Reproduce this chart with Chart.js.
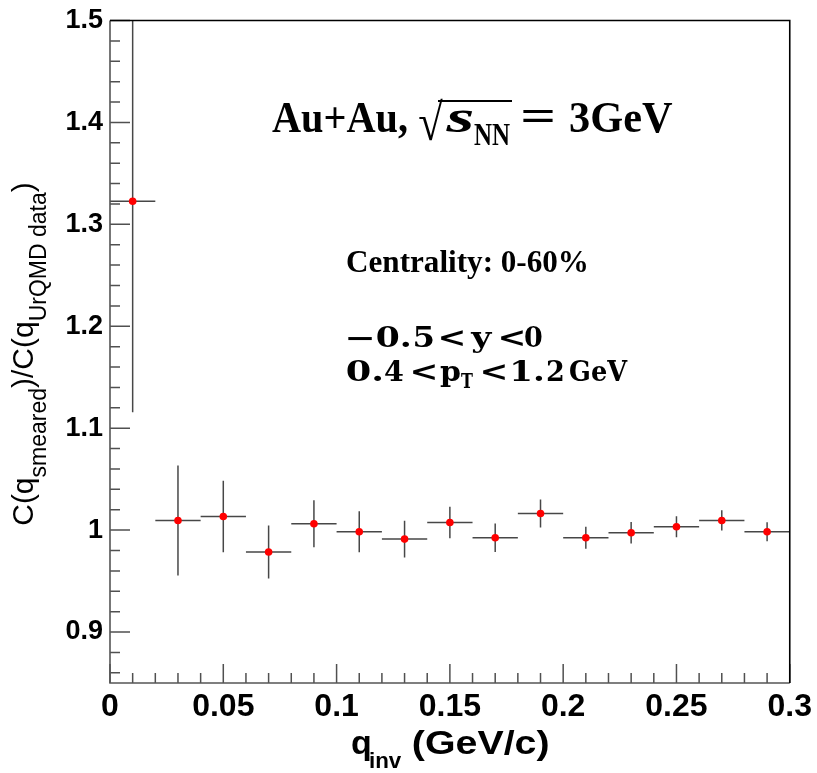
<!DOCTYPE html>
<html><head><meta charset="utf-8">
<script src="https://cdn.jsdelivr.net/npm/chart.js@4.4.1/dist/chart.umd.min.js"></script>
<style>html,body{margin:0;padding:0;background:#fff;}canvas{display:block;}</style>
</head><body>
<canvas id="c" width="817" height="773"></canvas>
<script>
// ---- data ----
const qCenters = [0.01, 0.03, 0.05, 0.07, 0.09, 0.11, 0.13, 0.15, 0.17, 0.19, 0.21, 0.23, 0.25, 0.27, 0.29];
const ratio    = [1.3226, 1.0095, 1.0134, 0.9785, 1.0062, 0.9984, 0.9912, 1.0075, 0.9925, 1.0163, 0.9925, 0.9974, 1.0033, 1.0095, 0.9984];
const ratioErr = [0.207, 0.054, 0.035, 0.026, 0.023, 0.020, 0.018, 0.0155, 0.014, 0.0137, 0.0107, 0.0105, 0.0102, 0.0099, 0.0093];
const binWidth = 0.02;
const xTickValues = [0, 0.05, 0.1, 0.15, 0.2, 0.25, 0.3];
const xTickLabels = ['0', '0.05', '0.1', '0.15', '0.2', '0.25', '0.3'];
const yTickValues = [0.9, 1.0, 1.1, 1.2, 1.3, 1.4, 1.5];
const yTickLabels = ['0.9', '1', '1.1', '1.2', '1.3', '1.4', '1.5'];
const xMinorStep = 0.01, xMinorPerMajor = 5;
const yMinorStep = 0.02, yMinorPerMajor = 5;

const SANS = "'Liberation Sans', Arial, Helvetica, sans-serif";
const SERIF = "'Liberation Serif', 'Times New Roman', serif";
const MATH = "'DejaVu Serif', 'Liberation Serif', serif";

// draws text so that its ink spans exactly from x0 to x1 (horizontal scaling only)
function fitInk(ctx, txt, font, x0, x1, y) {
  ctx.font = font;
  const m = ctx.measureText(txt);
  const l = m.actualBoundingBoxLeft, r = m.actualBoundingBoxRight;
  const s = (x1 - x0) / (l + r);
  ctx.save();
  ctx.translate(x0 + l * s, y);
  ctx.scale(s, 1);
  ctx.fillText(txt, 0, 0);
  ctx.restore();
}

function tokenRow(ctx, tokens, font, y) {
  tokens.forEach(tk => fitInk(ctx, tk[0], tk[3] || font, tk[1], tk[2], tk[4] || y));
}

const rootPlugin = {
  id: 'rootStyle',
  beforeDatasetsDraw(chart) {
    const ctx = chart.ctx, ca = chart.chartArea;
    const xs = chart.scales.x, ys = chart.scales.y;
    ctx.save();
    ctx.beginPath();
    ctx.rect(ca.left, ca.top, ca.right - ca.left, ca.bottom - ca.top);
    ctx.clip();
    ctx.strokeStyle = '#474747';
    ctx.lineWidth = 1.5;
    for (let i = 0; i < qCenters.length; i++) {
      const px = xs.getPixelForValue(qCenters[i]);
      const py = ys.getPixelForValue(ratio[i]);
      const x0 = xs.getPixelForValue(qCenters[i] - binWidth / 2);
      const x1 = xs.getPixelForValue(qCenters[i] + binWidth / 2);
      const y0 = ys.getPixelForValue(ratio[i] - ratioErr[i]);
      const y1 = ys.getPixelForValue(ratio[i] + ratioErr[i]);
      ctx.beginPath();
      ctx.moveTo(x0, py); ctx.lineTo(x1, py);
      ctx.moveTo(px, y0); ctx.lineTo(px, y1);
      ctx.stroke();
    }
    ctx.restore();
  },
  afterDatasetsDraw(chart) {
    const ctx = chart.ctx, ca = chart.chartArea;
    const xs = chart.scales.x, ys = chart.scales.y;
    ctx.save();
    ctx.strokeStyle = '#505050';
    ctx.lineWidth = 1.5;
    ctx.beginPath();
    const nx = Math.round((xs.max - xs.min) / xMinorStep);
    for (let k = 0; k <= nx; k++) {
      const v = xs.min + k * xMinorStep;
      const px = xs.getPixelForValue(v);
      const len = (k % xMinorPerMajor === 0) ? 19 : 10;
      ctx.moveTo(px, ca.bottom); ctx.lineTo(px, ca.bottom - len);
    }
    const k0 = Math.ceil(ys.min / yMinorStep - 1e-9), k1 = Math.floor(ys.max / yMinorStep + 1e-9);
    for (let k = k0; k <= k1; k++) {
      const v = k * yMinorStep;
      const py = ys.getPixelForValue(v);
      const len = (k % yMinorPerMajor === 0) ? 20 : 10;
      ctx.moveTo(ca.left, py); ctx.lineTo(ca.left + len, py);
    }
    ctx.stroke();
    ctx.strokeStyle = '#555';
    ctx.lineWidth = 1.6;
    ctx.beginPath();
    ctx.moveTo(ca.left, ca.top); ctx.lineTo(ca.left, ca.bottom); ctx.lineTo(ca.right, ca.bottom);
    ctx.stroke();
    ctx.strokeStyle = '#000';
    ctx.beginPath();
    ctx.moveTo(ca.left, ca.top); ctx.lineTo(ca.right, ca.top); ctx.lineTo(ca.right, ca.bottom);
    ctx.stroke();
    ctx.restore();
  },
  afterDraw(chart) {
    const ctx = chart.ctx;
    ctx.save();
    ctx.fillStyle = '#000';
    ctx.textBaseline = 'alphabetic';
    ctx.textAlign = 'left';

    // y-axis title (rotated)
    ctx.save();
    ctx.translate(33, 354);
    ctx.rotate(-Math.PI / 2);
    const ySeg = [
      { t: 'C(q', f: '30px ' + SANS, dy: 0 },
      { t: 'smeared', f: '23px ' + SANS, dy: 13 },
      { t: ')/C(q', f: '30px ' + SANS, dy: 0 },
      { t: 'UrQMD data', f: '23px ' + SANS, dy: 13 },
      { t: ')', f: '30px ' + SANS, dy: 0 }
    ];
    let tot = 0;
    ySeg.forEach(s => { ctx.font = s.f; s.w = ctx.measureText(s.t).width; tot += s.w; });
    let cx = -tot / 2;
    ySeg.forEach(s => { ctx.font = s.f; ctx.fillText(s.t, cx, s.dy); cx += s.w; });
    ctx.restore();

    // x-axis title
    fitInk(ctx, 'q', 'bold 34px ' + SANS, 352, 370, 754);
    fitInk(ctx, 'inv', 'bold 22px ' + SANS, 370, 402, 768);
    fitInk(ctx, '(GeV/c)', 'bold 34px ' + SANS, 413, 548, 754);

    // headline
    fitInk(ctx, 'Au+Au,', 'bold 45px ' + SERIF, 272, 407, 132);
    fitInk(ctx, '\u221A', '52px ' + SERIF, 419, 443, 140);
    ctx.strokeStyle = '#000'; ctx.lineWidth = 2;
    ctx.beginPath(); ctx.moveTo(438, 101); ctx.lineTo(512, 101); ctx.stroke();
    fitInk(ctx, 's', 'italic bold 46px ' + SERIF, 445, 473, 132);
    fitInk(ctx, 'NN', 'bold 32px ' + SERIF, 474, 510, 145);
    fitInk(ctx, '=', 'bold 44px ' + SERIF, 523, 553, 130);
    fitInk(ctx, '3GeV', 'bold 45px ' + SERIF, 570, 672, 132);

    // annotations
    fitInk(ctx, 'Centrality: 0-60%', 'bold 31px ' + SERIF, 347, 587, 272);
    const mf = 'bold 27px ' + MATH;
    tokenRow(ctx, [
      ['\u2212', 347, 372], ['0.', 377, 410], ['5', 415, 433], ['<', 440, 463],
      ['y', 470, 493], ['<', 500, 523], ['0', 525, 542]
    ], mf, 347);
    tokenRow(ctx, [
      ['0.', 347, 382], ['4', 385, 403], ['<', 412, 435], ['p', 440, 460],
      ['T', 461, 473, 'bold 20px ' + MATH, 388], ['<', 482, 505],
      ['1.', 513, 543], ['2', 547, 563], ['GeV', 570, 628]
    ], mf, 381);
    ctx.restore();
  }
};

const ctx = document.getElementById('c').getContext('2d');
new Chart(ctx, {
  type: 'scatter',
  data: {
    datasets: [{
      data: qCenters.map((x, i) => ({ x: x, y: ratio[i] })),
      pointRadius: 3.8,
      pointBackgroundColor: '#ff0000',
      pointBorderColor: '#ff0000',
      pointBorderWidth: 0,
      showLine: false
    }]
  },
  options: {
    responsive: false,
    animation: false,
    events: [],
    layout: { padding: { left: 0, right: 26, top: 18, bottom: 0 } },
    plugins: { legend: { display: false }, tooltip: { enabled: false }, title: { display: false } },
    scales: {
      x: {
        type: 'linear', min: 0, max: 0.3,
        grid: { display: false, drawTicks: false },
        border: { display: false },
        afterBuildTicks: s => { s.ticks = xTickValues.map(v => ({ value: v })); },
        afterFit: s => { s.height = 90; },
        ticks: {
          callback: v => xTickLabels[xTickValues.indexOf(v)],
          font: { family: SANS, size: 32, weight: 'bold' },
          color: '#000', padding: 5, maxRotation: 0, autoSkip: false
        }
      },
      y: {
        type: 'linear', min: 0.85, max: 1.5,
        grid: { display: false, drawTicks: false },
        border: { display: false },
        afterBuildTicks: s => { s.ticks = yTickValues.map(v => ({ value: v })); },
        afterFit: s => { s.width = 110; },
        ticks: {
          callback: v => yTickLabels[yTickValues.indexOf(v)],
          font: { family: SANS, size: 27, weight: 'bold', lineHeight: 1 },
          color: '#000', padding: 7, autoSkip: false
        }
      }
    }
  },
  plugins: [rootPlugin]
});
</script>
</body></html>
